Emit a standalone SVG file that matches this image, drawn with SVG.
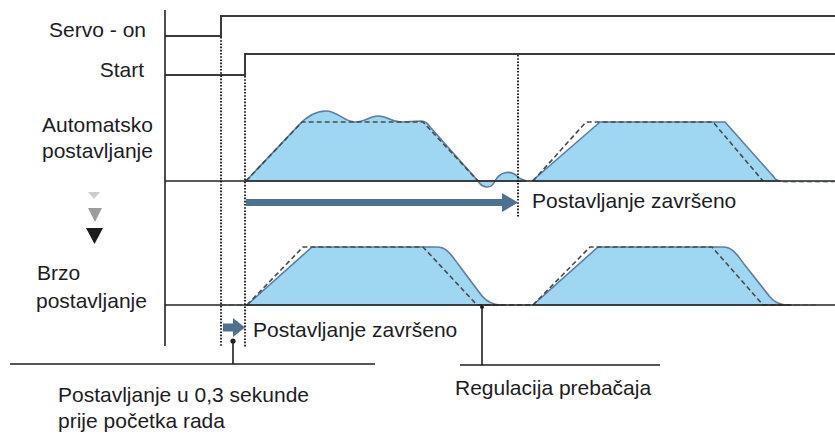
<svg xmlns="http://www.w3.org/2000/svg" width="835" height="434" viewBox="0 0 835 434">
<style>
text{font-family:"Liberation Sans",Arial,sans-serif;font-size:21px;fill:#1c1c24}
.sig{fill:none;stroke:#3a3a3a;stroke-width:2}
.axis{fill:none;stroke:#222;stroke-width:1.6}
.dot{fill:none;stroke:#111;stroke-width:1.8;stroke-dasharray:1.6,1.6}
.wave{fill:#9fd6f2;stroke:#5d7e9c;stroke-width:1.6;stroke-linejoin:round}
.cmd{fill:none;stroke:#4a4a4a;stroke-width:1.6;stroke-dasharray:5,3}
.tail{fill:none;stroke:#9ab3c8;stroke-width:1.6;stroke-dasharray:5,3}
.arr{fill:#4f7191}
.lead{fill:none;stroke:#1e1e1e;stroke-width:1.6}
</style>
<g id="signals">
<path class="sig" d="M165,36 L221,36 L221,16 L835,16"/>
<path class="sig" d="M165,75 L245,75 L245,54 L835,54"/>
<text x="146" y="37" text-anchor="end">Servo - on</text>
<text x="144" y="77" text-anchor="end">Start</text>
</g>
<g id="auto-positioning">
<path class="wave" d="M246,181 L298,126 C306,117 316,111 326,111 C338,111 344,122 355,122 C365,122 370,116 378,116 C388,116 391,122 401,122 L421,121 C426,121 428,124 431,128 L478,181 C482,188 491,190 495,181 C499,173 510,168 519,178 L526,181 Z"/>
<path class="cmd" d="M246,181 L302,122 L423,122 L478,181"/>
<path class="wave" d="M532,181 L600,122 L725,122 L773,176 C775,179 777,181 780,181 Z"/>
<path class="cmd" d="M533,181 L586,122 L713,122 L763,181"/>
<path class="tail" d="M783,182 L834,182"/>
<text x="42" y="132">Automatsko</text>
<text x="42" y="158">postavljanje</text>
</g>
<g id="fast-positioning">
<path class="tail" d="M221,305 L247,305"/>
<path class="wave" d="M247,305 L312,247 L437,247 C447,247 452,256 458,264 L482,296 C488,303 494,305 502,305 Z"/>
<path class="cmd" d="M247,305 L303,247 L423,247 L477,305 L530,305"/>
<path class="wave" d="M533,305 L598,247 L723,247 C733,247 738,256 744,264 L770,297 C775,303 780,305 788,305 Z"/>
<path class="cmd" d="M533,305 L590,247 L712,247 L763,305 L795,305"/>
<path class="tail" d="M795,305 L818,305"/>
<text x="37" y="280">Brzo</text>
<text x="36" y="308">postavljanje</text>
</g>
<g id="axes">
<path class="axis" d="M165,10 L165,346"/>
<path class="axis" d="M165,181 L835,181"/>
<path class="axis" d="M165,305 L835,305"/>
<path class="dot" d="M221,37 L221,347"/>
<path class="dot" d="M245,76 L245,347"/>
<path class="dot" d="M518,55 L518,218"/>
</g>
<g id="transition-arrows">
<polygon points="88,192 100,192 94,199" fill="#cdcdcd"/>
<polygon points="88,208 102,208 95,222" fill="#9c9c9c"/>
<polygon points="86,228 103,228 94.5,244" fill="#1d1a1a"/>
</g>
<g id="connectors">
<rect class="arr" x="246" y="199" width="258" height="7"/>
<polygon class="arr" points="502,193 518,202.5 502,212"/>
<text x="532" y="208">Postavljanje završeno</text>
<rect class="arr" x="223" y="323.5" width="11" height="8"/>
<polygon class="arr" points="233,318 245,327.5 233,337"/>
<text x="253" y="337">Postavljanje završeno</text>
</g>
<g id="annotations">
<path class="lead" d="M10,364 L375,364"/>
<path class="lead" d="M233,341 L233,364"/>
<circle cx="233" cy="341" r="2.6" fill="#1e1e1e"/>
<text x="58" y="402">Postavljanje u 0,3 sekunde</text>
<text x="58" y="428">prije početka rada</text>
<path class="lead" d="M460,365 L660,365"/>
<path class="lead" d="M482,306 L482,365"/>
<circle cx="482" cy="307" r="2" fill="#1e1e1e"/>
<text x="455" y="395">Regulacija prebačaja</text>
</g>
</svg>
